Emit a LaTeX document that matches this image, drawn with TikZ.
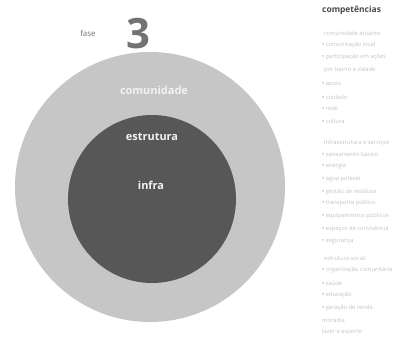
\documentclass[tikz,border=0pt]{standalone}
\usepackage{fontspec}
\setmainfont{Open Sans}
\setsansfont{Open Sans}
\definecolor{outerring}{HTML}{C6C6C6}
\definecolor{innerdisc}{HTML}{575757}
\definecolor{titlegray}{HTML}{737373}
\definecolor{listgray}{HTML}{C4C4C4}
\definecolor{bulletgray}{HTML}{9A9A9A}
\definecolor{headgray}{HTML}{4A4A4A}
\definecolor{ringtext}{HTML}{F2F2F2}
\newcommand{\lb}{{\color{bulletgray}•}\ }
\begin{document}
\begin{tikzpicture}[x=1bp,y=-1bp,
  ringlabel/.style={text=ringtext,font=\fontsize{11}{13}\selectfont\bfseries,inner sep=0},
  listline/.style={anchor=west,text=listgray,font=\fontsize{5.8}{7}\selectfont,inner sep=0},
  listhead/.style={anchor=west,text=listgray,font=\fontsize{5.8}{7}\selectfont,inner sep=0}]
\useasboundingbox (0,0) rectangle (418,345);
\fill[white] (0,0) rectangle (418,345);
% circles
\fill[outerring] (150,187) circle (135);
\fill[innerdisc] (152,199) circle (84);
% titles
\node[text=titlegray,font=\fontsize{8}{9}\selectfont,inner sep=0] (fase) at (88,33) {fase};
\node[text=titlegray,font=\fontsize{42}{44}\selectfont\bfseries,inner sep=0] (num) at (138,34) {3};
\node[ringlabel] (comunidade) at (154,90) {comunidade};
\node[ringlabel] (estrutura) at (152,137) {estrutura};
\node[ringlabel] (infra) at (151,185) {infra};
% list
\node[anchor=west,text=headgray,font=\fontsize{8.5}{10}\selectfont\bfseries,inner sep=0] (comp) at (322,10) {competências};
\node[listhead] (h1) at (324,33) {comunidade atuante};
\node[listline] (a1) at (322,45) {\lb comunicação local};
\node[listline] (a2) at (322,57) {\lb participação em ações};
\node[listline] (a3) at (324,70) {por bairro e cidade};
\node[listline] (a4) at (322,84) {\lb apoio};
\node[listline] (a5) at (322,97) {\lb cuidado};
\node[listline] (a6) at (322,108) {\lb rede};
\node[listline] (a7) at (322,121) {\lb cultura};
\node[listhead] (h2) at (324,143) {infraestrutura e serviços};
\node[listline] (b1) at (322,154) {\lb saneamento básico};
\node[listline] (b2) at (322,166) {\lb energia};
\node[listline] (b3) at (322,179) {\lb água potável};
\node[listline] (b4) at (322,192) {\lb gestão de resíduos};
\node[listline] (b5) at (322,203) {\lb transporte público};
\node[listline] (b6) at (322,216) {\lb equipamentos públicos};
\node[listline] (b7) at (322,229) {\lb espaços de convivência};
\node[listline] (b8) at (322,242) {\lb segurança};
\node[listhead] (h3) at (324,258) {estrutura social};
\node[listline] (c1) at (322,270) {\lb organização comunitária};
\node[listline] (c2) at (322,283) {\lb saúde};
\node[listline] (c3) at (322,295) {\lb educação};
\node[listline] (c4) at (322,308) {\lb geração de renda};
\node[listline] (c5) at (322,320) {moradia};
\node[listline] (c6) at (322,332) {lazer e esporte};
\end{tikzpicture}
\end{document}
